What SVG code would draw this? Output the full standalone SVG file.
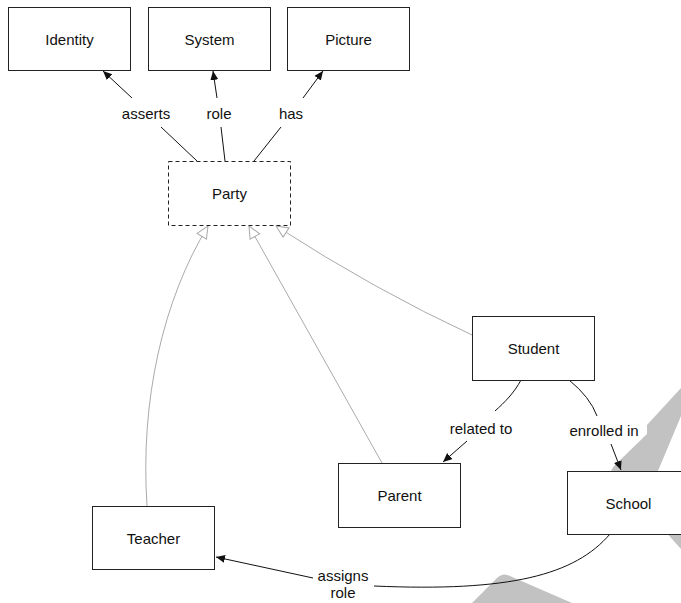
<svg xmlns="http://www.w3.org/2000/svg" width="681" height="603" viewBox="0 0 681 603">
<style>
  .box { fill: #fff; stroke: #222; stroke-width: 1; }
  .dashed { fill: #fff; stroke: #222; stroke-width: 1; stroke-dasharray: 4 3; }
  .t { font-family: "Liberation Sans", Arial, Helvetica, sans-serif; font-size: 15px; fill: #111; text-anchor: middle; dominant-baseline: central; }
  .edge { fill: none; stroke: #111; stroke-width: 1; }
  .gen { fill: none; stroke: #aaa; stroke-width: 1; }
  .wm { fill: #c2c2c2; stroke: none; }
</style>
<defs>
  <marker id="arr" markerUnits="userSpaceOnUse" markerWidth="12" markerHeight="10" refX="9" refY="4" orient="auto">
    <path d="M0,0 L9,4 L0,8 Z" fill="#111"/>
  </marker>
  <marker id="hollow" markerUnits="userSpaceOnUse" markerWidth="16" markerHeight="14" refX="13" refY="6.5" orient="auto">
    <path d="M1,1 L13,6.5 L1,12 Z" fill="#fff" stroke="#aaa" stroke-width="1"/>
  </marker>
</defs>
<rect x="0" y="0" width="681" height="603" fill="#fff"/>
<g id="watermark">
  <path class="wm" d="M681,388 L647,425 L647,434 L615,465 Q608,472 612,478 L655,478 L681,416 Z"/>
  <path class="wm" d="M655,520 L681,520 L681,549 Z"/>
  <path class="wm" d="M497,578 Q503,572 510,576 L572,603 L472,603 Z"/>
</g>
<g id="connectors">
  <path class="edge" d="M197,161 L161,127"/>
  <path class="edge" d="M132,98 L103,71" marker-end="url(#arr)"/>
  <text class="t" x="146" y="113">asserts</text>
  <path class="edge" d="M225,161 L221,127"/>
  <path class="edge" d="M217,98 L213,71" marker-end="url(#arr)"/>
  <text class="t" x="219" y="113">role</text>
  <path class="edge" d="M254,161 L281,127"/>
  <path class="edge" d="M303,98 L323,71" marker-end="url(#arr)"/>
  <text class="t" x="291" y="113">has</text>
  <path class="gen" d="M147,506 C140,400 163,300 208,226" marker-end="url(#hollow)"/>
  <path class="gen" d="M382,463 L249,226" marker-end="url(#hollow)"/>
  <path class="gen" d="M472,335 Q375,290 276,226" marker-end="url(#hollow)"/>
  <path class="edge" d="M521,380 C514,393 505,402 495,411"/>
  <path class="edge" d="M467,441 L443,462" marker-end="url(#arr)"/>
  <text class="t" x="481" y="428">related to</text>
  <path class="edge" d="M569,380 Q590,397 597,416"/>
  <path class="edge" d="M611,444 L621,470" marker-end="url(#arr)"/>
  <text class="t" x="604" y="430">enrolled in</text>
  <path class="edge" d="M610,534 C575,575 510,592 374,586"/>
  <path class="edge" d="M313,578 L216,557" marker-end="url(#arr)"/>
  <text class="t" x="343" y="575">assigns</text>
  <text class="t" x="343" y="592">role</text>
</g>
<g id="node-identity">
  <rect class="box" x="8.5" y="7.5" width="122" height="63"/>
  <text class="t" x="69.5" y="39">Identity</text>
</g>
<g id="node-system">
  <rect class="box" x="148.5" y="7.5" width="122" height="63"/>
  <text class="t" x="209.5" y="39">System</text>
</g>
<g id="node-picture">
  <rect class="box" x="287.5" y="7.5" width="122" height="63"/>
  <text class="t" x="348.5" y="39">Picture</text>
</g>
<g id="node-party">
  <rect class="dashed" x="168.5" y="161.5" width="122" height="64"/>
  <text class="t" x="229.5" y="193">Party</text>
</g>
<g id="node-student">
  <rect class="box" x="472.5" y="316.5" width="122" height="64"/>
  <text class="t" x="533.5" y="348">Student</text>
</g>
<g id="node-parent">
  <rect class="box" x="338.5" y="463.5" width="122" height="64"/>
  <text class="t" x="399.5" y="495">Parent</text>
</g>
<g id="node-school">
  <rect class="box" x="567.5" y="471.5" width="122" height="63"/>
  <text class="t" x="628.5" y="503">School</text>
</g>
<g id="node-teacher">
  <rect class="box" x="92.5" y="506.5" width="122" height="63"/>
  <text class="t" x="153.5" y="538">Teacher</text>
</g>
</svg>
